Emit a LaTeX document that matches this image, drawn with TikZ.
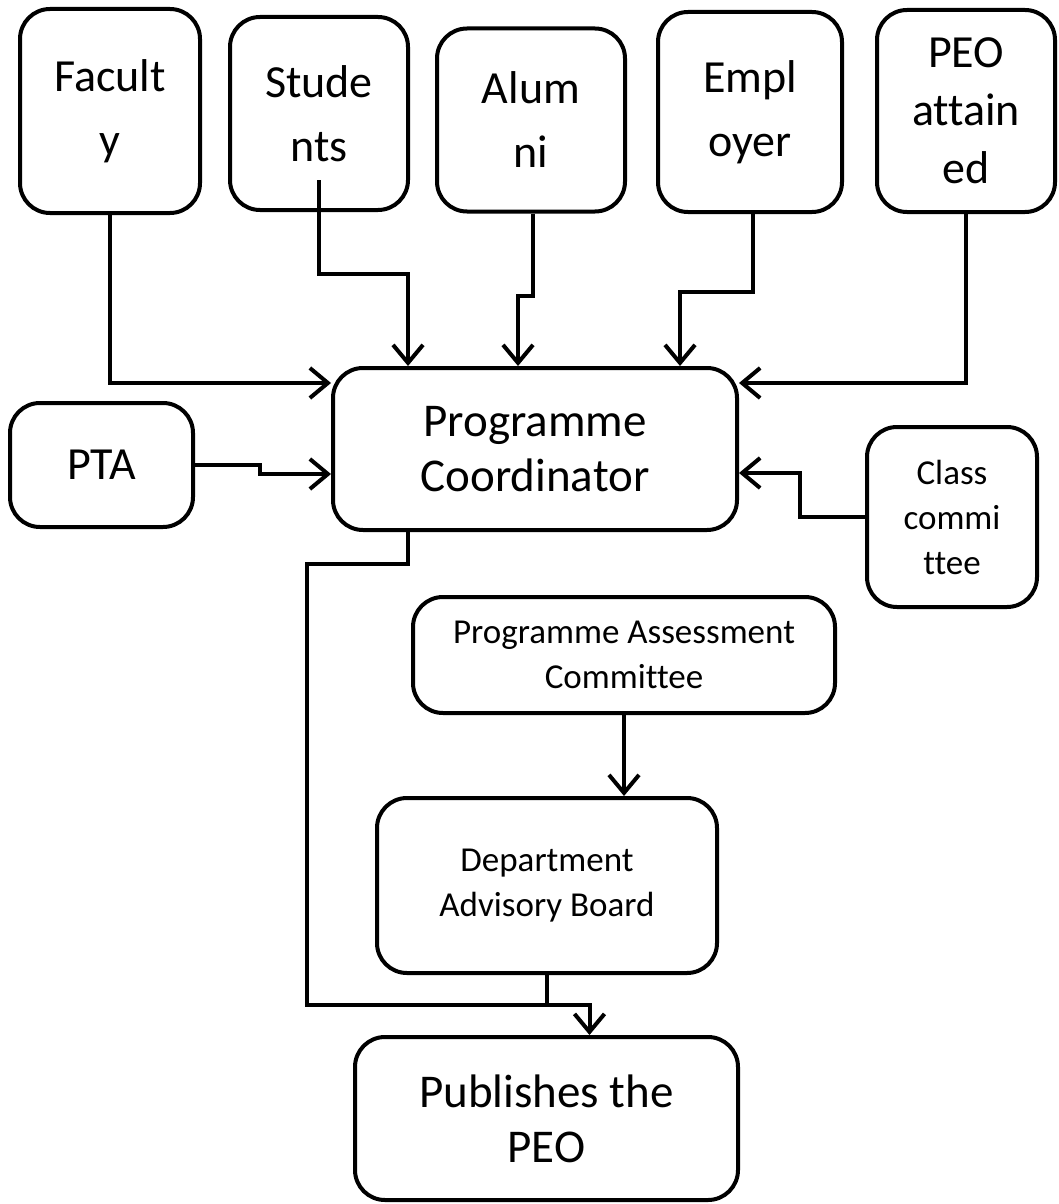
\documentclass[tikz,border=0pt]{standalone}
\usepackage{fontspec}
\setmainfont{Carlito}[Ligatures=CommonOff]
\usepackage{tikz}
\usetikzlibrary{arrows.meta}
\usetikzlibrary{positioning}

\tikzset{
  box/.style={draw, line width=4pt, rounded corners=30pt, align=center, inner sep=0pt},
  big/.style={font=\fontsize{46pt}{64pt}\selectfont},
  mid/.style={font=\fontsize{47pt}{55pt}\selectfont},
  small/.style={font=\fontsize{35pt}{45pt}\selectfont},
  link/.style={line width=4pt},
  conn/.style={line width=4pt, -{Straight Barb[length=18pt,width=30pt]}}
}

\begin{document}
\begin{tikzpicture}[x=1pt,y=-1pt]

\useasboundingbox (0,0) rectangle (1059,1204);

% Fontes
\node[box,big,minimum width=180pt,minimum height=204pt] (fac) at (110,111) {Facult\\y};
\node[box,big,minimum width=178pt,minimum height=193pt] (stu) at (319,113.5) {Stude\\nts};
\node[box,big,minimum width=188pt,minimum height=183pt] (alu) at (531,120) {Alum\\ni};
\node[box,big,minimum width=184pt,minimum height=200pt] (emp) at (750,112) {Empl\\oyer};
\node[box,big,font=\fontsize{46pt}{58pt}\selectfont,minimum width=178pt,minimum height=202pt] (peo) at (966,111) {PEO\\attain\\ed};

% Coordenador
\node[box,mid,minimum width=404pt,minimum height=162pt] (coord) at (535,449) {Programme\\Coordinator};
\node[box,big,minimum width=183pt,minimum height=124pt] (pta) at (101.5,465) {PTA};
\node[box,small,minimum width=170pt,minimum height=180pt] (cls) at (952,517) {Class\\commi\\ttee};

% Comites
\node[box,small,minimum width=422pt,minimum height=116pt] (pac) at (624,655) {Programme Assessment\\Committee};
\node[box,small,minimum width=340pt,minimum height=175pt] (dab) at (547,885.5) {Department\\Advisory Board};
\node[box,mid,minimum width=383pt,minimum height=163pt] (pub) at (546.5,1118.5) {Publishes the\\PEO};

% Setas para o coordenador
\draw[conn] (fac.south) |- ([yshift=-17pt]coord.north west);
\draw[conn] ([yshift=32pt]stu.south) -- ++(0,94) -| ([xshift=-127pt]coord.north);
\draw[conn] ([xshift=2pt]alu.south) -- ++(0,82) -| ([xshift=-17pt]coord.north);
\draw[conn] ([xshift=3pt]emp.south) -- ++(0,78) -| ([xshift=145pt]coord.north);
\draw[conn] (peo.south) |- ([yshift=-17pt]coord.north east);
\draw[conn] (pta.east) -- ++(65,0) |- ([yshift=-25pt]coord.west);
\draw[conn] (cls.west) -- ++(-65,0) |- ([yshift=-24pt]coord.east);

% Publicacao
\coordinate (join) at ([yshift=-30pt]dab.south);
\draw[link] ([xshift=-127pt]coord.south) -- ++(0,32) -| ([xshift=-240pt]join) -- (join);
\draw[conn] (pac.south) -- (pac.south |- dab.north);
\draw[conn] (dab.south) -- (join) -| ([xshift=43pt]pub.north);

\end{tikzpicture}
\end{document}
